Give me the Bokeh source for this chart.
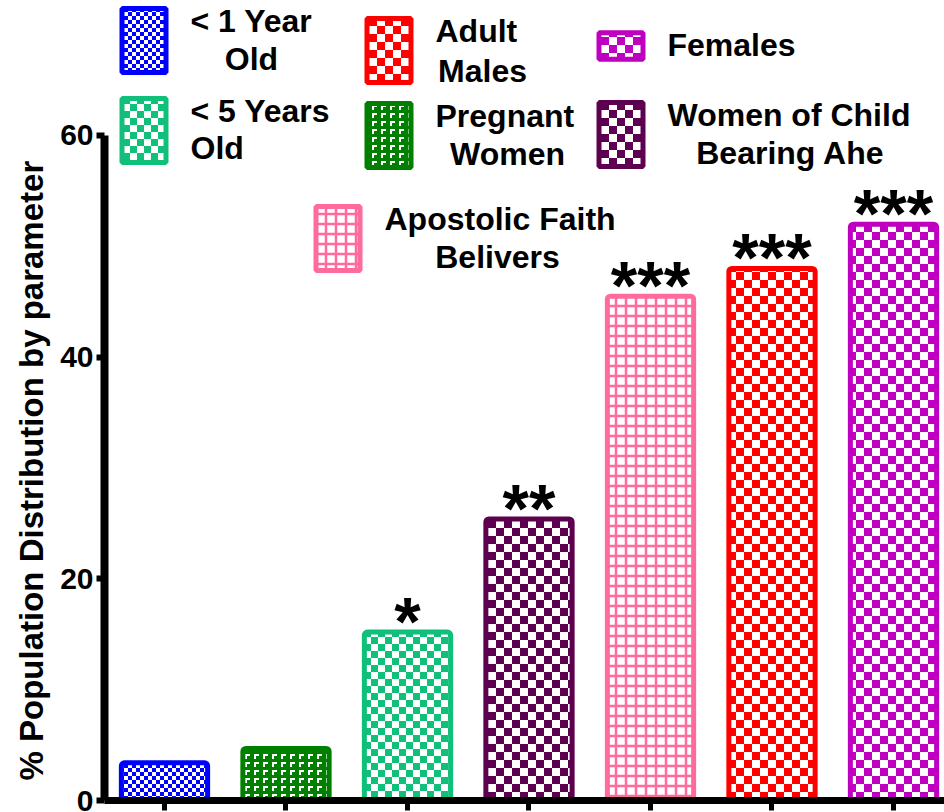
import base64
from bokeh.plotting import figure
from bokeh.models import (Range1d, FixedTicker, Legend, LegendItem, ColumnDataSource,
                          ImageURLTexture, Title, Label)
from bokeh.embed import file_html
from bokeh.resources import INLINE
from bokeh.core.properties import value

# ---------------- data ----------------
categories = ["< 1 Year\nOld", "Pregnant\nWomen", "< 5 Years\nOld",
              "Women of Child\nBearing Ahe", "Apostolic Faith\nBelivers",
              "Adult\nMales", "Females"]
values = [3.4, 4.7, 15.2, 25.4, 45.5, 48.0, 52.0]
significance = ["", "", "*", "**", "***", "***", "***"]
y_ticks = [0, 20, 40, 60]
y_title = "% Population Distribution by parameter"

# ---------------- styles ----------------
colors = ["#0000FF", "#007F00", "#0FBF7A", "#5E0050", "#FF6B9C", "#FF0000", "#C000C0"]
hcolors = colors
patterns = ["ck_blue", "gamma", "ck_teal", "ck_purple", "+", "ck_red", "ck_magenta"]


def svg_url(svg):
    return "data:image/svg+xml;base64," + base64.b64encode(svg.encode()).decode()


def checker(col, n):
    h = n // 2
    svg = (f"<svg xmlns='http://www.w3.org/2000/svg' width='{n}' height='{n}' "
           f"shape-rendering='crispEdges'>"
           f"<rect width='{n}' height='{n}' fill='white'/>"
           f"<rect width='{h}' height='{h}' fill='{col}'/>"
           f"<rect x='{h}' y='{h}' width='{h}' height='{h}' fill='{col}'/></svg>")
    return ImageURLTexture(url=svg_url(svg))


def gamma(col):
    svg = (f"<svg xmlns='http://www.w3.org/2000/svg' width='9' height='8' "
           f"shape-rendering='crispEdges'>"
           f"<rect width='9' height='8' fill='{col}'/>"
           f"<rect x='2' y='2' width='5' height='2' fill='white'/>"
           f"<rect x='2' y='2' width='2' height='5' fill='white'/></svg>")
    return ImageURLTexture(url=svg_url(svg))


extra = {"ck_blue": checker(colors[0], 8), "gamma": gamma(colors[1]),
         "ck_teal": checker(colors[2], 14), "ck_purple": checker(colors[3], 16),
         "ck_red": checker(colors[5], 16), "ck_magenta": checker(colors[6], 16)}

FONT = "Liberation Sans"

p = figure(width=944, height=812, frame_width=840, frame_height=800,
           output_backend="svg", toolbar_location=None,
           x_range=Range1d(0.5062, 7.4198), y_range=Range1d(0, 72.18),
           min_border_left=104, min_border_right=0, min_border_top=0,
           min_border_bottom=12)
p.outline_line_color = None
p.grid.visible = False
p.background_fill_color = "white"

xs = list(range(1, len(values) + 1))
src = ColumnDataSource(dict(x=xs, top=values, color=colors, hcolor=hcolors, pat=patterns))

bars = p.vbar(x="x", top="top", bottom=0, width=0.71, source=src,
              fill_color="white", line_color="color", line_width=5,
              hatch_pattern="pat", hatch_color="hcolor", hatch_scale=10,
              hatch_weight=2.5, hatch_extra=extra, border_radius=3)

sig_idx = [i for i, s in enumerate(significance) if s]
sig_src = ColumnDataSource(dict(x=[xs[i] for i in sig_idx],
                                top=[values[i] for i in sig_idx],
                                sig=[significance[i] for i in sig_idx]))
p.text(x="x", y="top", text="sig", source=sig_src, text_align="center",
       text_baseline="alphabetic", y_offset=-11, text_font=value(FONT),
       text_font_style="bold", text_font_size="68px", text_color="black")

# ---------------- axes ----------------
ya = p.yaxis[0]
ya.ticker = FixedTicker(ticks=y_ticks)
ya.bounds = (0, 60)
ya.axis_line_width = 8
ya.major_tick_line_width = 6
ya.major_tick_out = 8
ya.major_tick_in = 0
ya.minor_tick_line_color = None
ya.major_label_text_font = FONT
ya.major_label_text_font_style = "bold"
ya.major_label_text_font_size = "30px"
ya.major_label_text_color = "black"
ya.major_label_standoff = 3

p.add_layout(Title(text=y_title, align="left", offset=20, standoff=16,
                   text_font=FONT, text_font_style="bold", text_font_size="33px",
                   text_color="black"), "left")

xa = p.xaxis[0]
xa.ticker = FixedTicker(ticks=xs)
xa.axis_line_width = 7
xa.major_tick_line_width = 5
xa.major_tick_out = 10
xa.major_tick_in = 0
xa.minor_tick_line_color = None
xa.major_label_overrides = {x: "" for x in xs}
xa.major_label_standoff = 0

# ---------------- legends ----------------
# (index, glyph height, location from frame bottom-left, centre of 2nd line or None)
leg_specs = [
    (0, 80, (11.5, 720), (251, 58)),
    (2, 80, (11.5, 630), None),
    (5, 80, (256.5, 710), (482, 70)),
    (1, 80, (256.5, 625), (507, 153)),
    (6, 33, (488.5, 736.5), None),
    (3, 80, (488.5, 626), (790, 152)),
    (4, 80, (205.5, 522), (497, 256)),
]
FRAME_LEFT, FRAME_BOTTOM = 104, 800
for idx, gh, loc, second in leg_specs:
    text = categories[idx]
    if second is not None:
        first_line, second_line = text.split("\n")
        # keep a (zero-width) second line so the first line sits at the top
        text = first_line + "\n\u200b"
    lg = Legend(items=[LegendItem(label=text, renderers=[bars], index=idx)],
                location=loc, orientation="vertical",
                glyph_width=55, glyph_height=gh, label_standoff=20,
                label_text_font=FONT, label_text_font_style="bold",
                label_text_font_size="32px", label_text_line_height=1.27,
                label_text_color="black",
                padding=0, margin=0, spacing=0,
                border_line_alpha=0, background_fill_alpha=0)
    p.add_layout(lg, "center")
    if second is not None:
        p.add_layout(Label(x=second[0] - FRAME_LEFT, y=FRAME_BOTTOM - second[1],
                           x_units="screen", y_units="screen", text=second_line,
                           text_align="center", text_baseline="middle",
                           text_font=FONT, text_font_style="bold",
                           text_font_size="32px", text_color="black"))

open("out.html", "w").write(file_html(p, INLINE))
